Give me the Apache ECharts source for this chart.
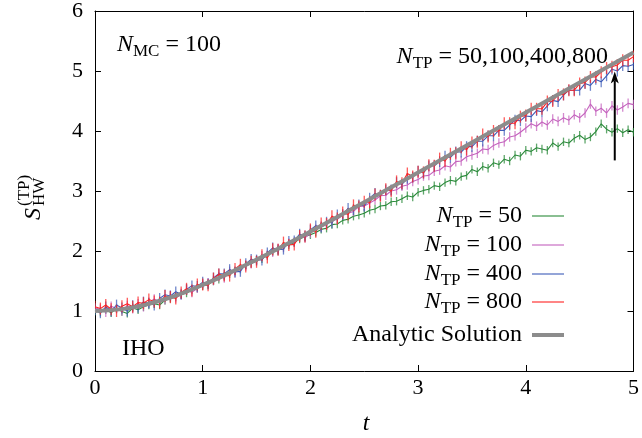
<!DOCTYPE html>
<html><head><meta charset="utf-8">
<script src="https://cdn.jsdelivr.net/npm/echarts@6/dist/echarts.min.js"></script>
<style>html,body{margin:0;padding:0;background:#fff}#c{width:642px;height:438px}</style>
</head><body><div id="c"></div>
<script>
const tGrid = [0,0.05,0.1,0.15,0.2,0.25,0.3,0.35,0.4,0.45,0.5,0.55,0.6,0.65,0.7,0.75,0.8,0.85,0.9,0.95,
1,1.05,1.1,1.15,1.2,1.25,1.3,1.35,1.4,1.45,1.5,1.55,1.6,1.65,1.7,1.75,1.8,1.85,1.9,1.95,
2,2.05,2.1,2.15,2.2,2.25,2.3,2.35,2.4,2.45,2.5,2.55,2.6,2.65,2.7,2.75,2.8,2.85,2.9,2.95,
3,3.05,3.1,3.15,3.2,3.25,3.3,3.35,3.4,3.45,3.5,3.55,3.6,3.65,3.7,3.75,3.8,3.85,3.9,3.95,
4,4.05,4.1,4.15,4.2,4.25,4.3,4.35,4.4,4.45,4.5,4.55,4.6,4.65,4.7,4.75,4.8,4.85,4.9,4.95,5];

const sTP50 = [1.00,0.98,1.02,0.97,1.04,0.99,0.96,1.05,1.02,1.07,1.10,1.12,1.10,1.18,1.21,1.24,1.27,1.30,1.35,1.38,
1.42,1.44,1.50,1.53,1.58,1.62,1.66,1.70,1.76,1.79,1.85,1.87,1.93,1.99,2.01,2.08,2.10,2.14,2.20,2.24,
2.27,2.31,2.36,2.38,2.44,2.45,2.51,2.53,2.58,2.60,2.63,2.68,2.70,2.75,2.76,2.82,2.83,2.87,2.92,2.90,
2.98,3.01,3.03,3.09,3.07,3.14,3.18,3.16,3.24,3.26,3.36,3.32,3.41,3.38,3.47,3.44,3.53,3.50,3.60,3.58,
3.68,3.66,3.72,3.70,3.68,3.80,3.74,3.82,3.80,3.88,3.93,3.86,3.90,3.99,4.12,4.03,3.98,4.04,3.97,4.02,3.98];

const sTP100 = [1.05,1.03,0.98,1.08,1.04,1.00,1.09,1.04,1.12,1.07,1.14,1.20,1.15,1.19,1.26,1.22,1.27,1.35,1.31,1.38,
1.45,1.47,1.51,1.57,1.55,1.66,1.64,1.71,1.75,1.79,1.84,1.92,1.93,1.98,2.04,2.06,2.13,2.15,2.24,2.22,
2.30,2.36,2.40,2.44,2.51,2.53,2.60,2.63,2.66,2.74,2.75,2.80,2.85,2.92,2.93,3.00,3.02,3.08,3.10,3.16,
3.19,3.25,3.26,3.33,3.35,3.42,3.40,3.49,3.50,3.57,3.60,3.63,3.70,3.69,3.76,3.80,3.82,3.90,3.92,3.98,
4.05,4.12,4.08,4.15,4.10,4.20,4.16,4.22,4.18,4.27,4.22,4.30,4.45,4.33,4.38,4.30,4.42,4.35,4.40,4.46,4.44];

const sTP400 = [1.02,0.97,1.07,1.00,1.10,1.05,1.00,1.09,1.06,1.15,1.13,1.10,1.21,1.27,1.25,1.32,1.28,1.36,1.42,1.41,
1.48,1.45,1.55,1.62,1.62,1.69,1.65,1.66,1.79,1.86,1.85,1.85,1.97,2.05,2.02,2.03,2.16,2.17,2.28,2.25,
2.35,2.42,2.40,2.48,2.47,2.60,2.61,2.71,2.69,2.77,2.75,2.88,2.96,2.93,3.02,3.02,3.14,3.11,3.21,3.23,
3.33,3.30,3.42,3.42,3.49,3.58,3.56,3.65,3.65,3.74,3.74,3.83,3.83,3.92,3.92,4.01,4.01,4.10,4.18,4.17,
4.25,4.24,4.34,4.32,4.42,4.51,4.49,4.60,4.68,4.68,4.68,4.79,4.76,4.86,4.82,4.92,5.03,5.00,5.09,5.08,5.11];

const sTP800 = [1.07,1.04,1.10,1.03,1.00,1.08,1.12,1.07,1.14,1.13,1.19,1.16,1.14,1.25,1.23,1.21,1.31,1.37,1.34,1.44,
1.44,1.43,1.54,1.61,1.59,1.59,1.70,1.77,1.74,1.82,1.82,1.93,1.89,2.03,2.02,2.14,2.10,2.11,2.25,2.24,
2.36,2.32,2.46,2.45,2.58,2.54,2.64,2.61,2.76,2.74,2.82,2.81,2.94,2.92,3.03,3.00,3.16,3.13,3.29,3.24,
3.32,3.31,3.43,3.42,3.54,3.50,3.62,3.63,3.73,3.69,3.81,3.82,3.94,3.91,4.00,4.00,4.13,4.13,4.13,4.24,
4.26,4.37,4.37,4.37,4.49,4.50,4.60,4.61,4.68,4.68,4.79,4.81,4.90,4.90,4.98,5.05,5.07,5.10,5.18,5.18,5.24];

const errTP = [0.07, 0.08, 0.09, 0.1];
const tAnalytic = [0,0.25,0.5,0.75,1,1.25,1.5,1.75,2,2.25,2.5,2.75,3,3.25,3.5,3.75,4,4.25,4.5,4.75,5];
const sAnalytic = [1.000,1.031,1.120,1.258,1.434,1.636,1.856,2.087,2.325,2.568,2.814,3.061,3.309,3.558,3.808,4.057,4.307,4.557,4.807,5.057,5.307];
const tpLabels = ['50','100','400','800'];
const arrowT = 4.826, arrowFrom = 3.51, arrowTo = 4.99;

const colors = ['#2a8a3a', '#c462bd', '#3d5cb8', '#ff2222'];
const gray = '#8c8c8c';
const FONTNAME = '"Liberation Serif", "DejaVu Serif", serif';

const chart = echarts.init(document.getElementById('c'), null, {renderer:'canvas'});
const mctx = document.createElement('canvas').getContext('2d');
function fnt(p){ return (p.italic?'italic ':'') + p.size + 'px ' + FONTNAME; }
function textRow(parts, x, y, align){
  const widths = parts.map(p => { mctx.font = fnt(p); return mctx.measureText(p.text).width; });
  const total = widths.reduce((a,b)=>a+b,0);
  let cx = align==='right' ? x-total : (align==='center' ? x-total/2 : x);
  return parts.map((p,i) => {
    const el = {type:'text', x: cx + (p.dx||0), y: y + (p.dy||0), z: 100,
      style:{text:p.text, font: fnt(p), fill:'#000', textAlign:'left', textVerticalAlign:'middle', verticalAlign:'middle'}};
    cx += widths[i];
    return el;
  });
}
function ntp(rest, size){
  return [{text:'N', italic:true, size:size},{text:'TP', size:Math.round(size*0.72), dy:7},{text:rest, size:size}];
}

const dataSets = [sTP50, sTP100, sTP400, sTP800];
const series = [];
dataSets.forEach((vals, k) => {
  series.push({
    type:'custom', name:'err'+k, silent:true, clip:true, z: 2+k,
    data: tGrid.map((t,i)=>[t, vals[i], errTP[k]]),
    encode:{x:0, y:1},
    renderItem: (params, api) => {
      const x = api.value(0), y = api.value(1), e = api.value(2);
      const lo = api.coord([x, y-e]), hi = api.coord([x, y+e]);
      return {type:'line', shape:{x1:lo[0], y1:lo[1], x2:hi[0], y2:hi[1]},
        style:{stroke:colors[k], lineWidth:1.3, opacity:0.75}};
    }
  });
  series.push({
    type:'line', name:'N'+tpLabels[k], showSymbol:false, silent:true, z: 2+k,
    data: tGrid.map((t,i)=>[t, vals[i]]),
    lineStyle:{color:colors[k], width:1.1}, itemStyle:{color:colors[k]}
  });
});
series.push({
  type:'line', name:'Analytic', showSymbol:false, silent:true, smooth:true, z: 10,
  data: tAnalytic.map((t,i)=>[t, sAnalytic[i]]),
  lineStyle:{color:gray, width:4}
});
series.push({
  type:'custom', name:'arrow', silent:true, z: 11, clip:false,
  data:[[arrowT, arrowFrom, arrowTo]], encode:{x:0,y:1},
  renderItem: (params, api) => {
    const a = api.coord([api.value(0), api.value(1)]);
    const b = api.coord([api.value(0), api.value(2)]);
    return {type:'group', children:[
      {type:'line', shape:{x1:a[0], y1:a[1], x2:b[0], y2:b[1]+9}, style:{stroke:'#000', lineWidth:2}},
      {type:'polygon', shape:{points:[[b[0],b[1]],[b[0]-4,b[1]+12],[b[0],b[1]+9],[b[0]+4,b[1]+12]]}, style:{fill:'#000'}}
    ]};
  }
});

const axisCommon = {
  type:'value', axisLine:{show:true, onZero:false, lineStyle:{color:'#000', width:1}},
  axisTick:{show:true, inside:true, length:6, lineStyle:{color:'#000'}},
  splitLine:{show:false}
};
const labelStyle = {color:'#000', fontFamily:FONTNAME, fontSize:22, showMinLabel:true, showMaxLabel:true};

// legend
const legendYs = [216, 245, 274, 302, 335];
const graphics = [];
tpLabels.forEach((lab, k) => {
  graphics.push(...textRow(ntp(' = ' + lab, 24), 522, legendYs[k], 'right'));
  graphics.push({type:'line', shape:{x1:532, y1:legendYs[k], x2:564, y2:legendYs[k]}, style:{stroke:colors[k], lineWidth:1.1}});
});
graphics.push(...textRow([{text:'Analytic Solution', size:24}], 522, legendYs[4], 'right'));
graphics.push({type:'line', shape:{x1:532, y1:legendYs[4], x2:564, y2:legendYs[4]}, style:{stroke:gray, lineWidth:4}});
// annotations
graphics.push(...textRow([{text:'N', italic:true, size:24},{text:'MC', size:17, dy:7},{text:' = 100', size:24}], 117, 45, 'left'));
graphics.push(...textRow(ntp(' = 50,100,400,800', 24), 608, 57, 'right'));
graphics.push(...textRow([{text:'IHO', size:24}], 122, 349, 'left'));
graphics.push(...textRow([{text:'t', italic:true, size:24}], 366, 424, 'center'));
// y-axis name (rotated)
graphics.push({type:'group', x:34, y:192, rotation:Math.PI/2, children:[
  {type:'text', x:-28, y:0, style:{text:'S', font:fnt({italic:true,size:24}), fill:'#000', textVerticalAlign:'middle', verticalAlign:'middle'}},
  {type:'text', x:-14, y:-9, style:{text:'(TP)', font:fnt({size:17}), fill:'#000', textVerticalAlign:'middle', verticalAlign:'middle'}},
  {type:'text', x:-14, y:6, style:{text:'HW', font:fnt({size:17}), fill:'#000', textVerticalAlign:'middle', verticalAlign:'middle'}}
]});

chart.setOption({
  animation:false,
  backgroundColor:'#fff',
  grid:{left:95, right:5, top:10, bottom:67, containLabel:false},
  xAxis:[
    Object.assign({}, axisCommon, {min:0, max:5, interval:1, position:'bottom',
      axisLabel:Object.assign({}, labelStyle, {margin:6})}),
    Object.assign({}, axisCommon, {min:0, max:5, interval:1, position:'top', axisLabel:{show:false}})
  ],
  yAxis:[
    Object.assign({}, axisCommon, {min:0, max:6, interval:1, position:'left',
      axisLabel:Object.assign({}, labelStyle, {margin:12})}),
    Object.assign({}, axisCommon, {min:0, max:6, interval:1, position:'right', axisLabel:{show:false}})
  ],
  series: series,
  graphic: graphics
});
</script>
</body></html>
